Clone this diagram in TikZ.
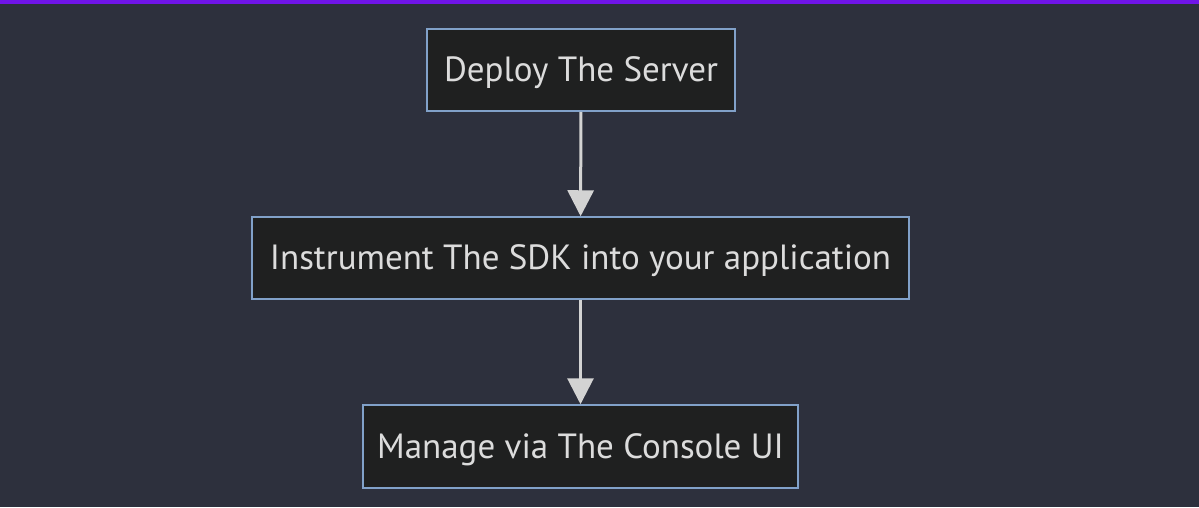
\documentclass[tikz,border=0pt]{standalone}
\usepackage{fontspec}
\setmainfont{PT Sans}
\usetikzlibrary{arrows.meta}
\definecolor{bgc}{HTML}{2D303D}
\definecolor{barc}{HTML}{7014E8}
\definecolor{boxfill}{HTML}{1F2020}
\definecolor{boxline}{HTML}{81A1C9}
\definecolor{txtc}{HTML}{DCDCDC}
\definecolor{arrc}{HTML}{D3D3D3}
\tikzset{
  stepbox/.style={draw=boxline, fill=boxfill, line width=1.5pt, text=txtc,
    minimum height=82pt, inner sep=0pt, text height=28pt, text depth=5pt,
    font=\fontsize{35}{42}\selectfont},
  flow/.style={draw=arrc, line width=3pt, -{Triangle[width=26pt,length=26pt]}}
}
\begin{document}
\begin{tikzpicture}[x=1pt,y=-1pt]
\fill[bgc] (0,0) rectangle (1199,507);
\useasboundingbox (0,0) rectangle (1199,507);
\fill[barc] (0,0) rectangle (1199,3.5);
\node[stepbox, minimum width=308pt] (a) at (581,70) {Deploy The Server};
\node[stepbox, minimum width=657pt] (b) at (580.5,258) {Instrument The SDK into your application};
\node[stepbox, minimum width=435pt, minimum height=83pt] (c) at (580.5,446.5) {Manage via The Console UI};
\draw[flow] (a) -- (b);
\draw[flow] (b) -- (c);
\end{tikzpicture}
\end{document}
